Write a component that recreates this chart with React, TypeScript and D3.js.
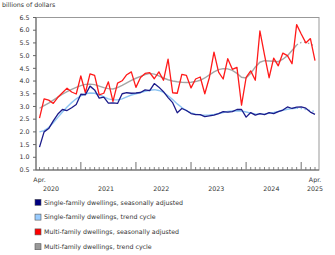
import React from "react";
import * as d3 from "d3";

const yTicks = [0.5, 1.0, 1.5, 2.0, 2.5, 3.0, 3.5, 4.0, 4.5, 5.0, 5.5, 6.0, 6.5];
const years = ["2020", "2021", "2022", "2023", "2024", "2025"];

const singleSA = [
  1.4, 2.0, 2.13, 2.43, 2.7, 2.88, 2.84, 2.95, 3.08, 3.48, 3.46, 3.8, 3.65,
  3.33, 3.37, 3.13, 3.14, 3.12, 3.5, 3.54, 3.52, 3.53, 3.55, 3.65, 3.62,
  3.9, 3.76, 3.58, 3.35, 3.15, 2.75, 2.92, 2.84, 2.72, 2.68, 2.68, 2.6,
  2.63, 2.66, 2.72, 2.8, 2.78, 2.8, 2.88, 2.88, 2.58, 2.76, 2.66, 2.72,
  2.68, 2.76, 2.72, 2.8, 2.86, 2.98, 2.92, 2.97, 2.98, 2.93, 2.78, 2.69,
];
const singleTrend = [
  2.0, 2.05, 2.17, 2.36, 2.57, 2.78, 2.98, 3.15, 3.3, 3.42, 3.5, 3.53, 3.52,
  3.46, 3.38, 3.3, 3.26, 3.26, 3.3, 3.38, 3.45, 3.5, 3.55, 3.6, 3.64, 3.66,
  3.63, 3.55, 3.42, 3.27, 3.1, 2.96, 2.84, 2.75, 2.7, 2.67, 2.66, 2.67,
  2.69, 2.72, 2.76, 2.8, 2.82, 2.83, 2.82, 2.78, 2.74, 2.71, 2.7, 2.71,
  2.73, 2.76, 2.8, 2.85, 2.89, 2.92, 2.93, 2.92, 2.88, 2.84, 2.8,
];
const multiSA = [
  2.54, 3.3, 3.25, 3.12, 3.36, 3.54, 3.72, 3.57, 3.49, 4.2, 3.54, 4.28, 4.22,
  3.46, 3.52, 3.97, 3.2, 3.92, 4.01, 4.25, 4.36, 3.75, 4.14, 4.3, 4.33,
  4.09, 4.36, 4.03, 4.86, 3.54, 3.52, 4.26, 4.22, 3.73, 4.08, 4.16, 3.5,
  4.14, 5.14, 4.35, 4.08, 4.88, 4.46, 4.54, 3.05, 4.14, 4.4, 4.03, 5.97,
  5.03, 4.13, 4.9, 4.6, 5.1, 5.0, 4.68, 6.22, 5.85, 5.5, 5.67, 4.8,
];
const multiTrend = [
  2.93, 3.03, 3.13, 3.25, 3.37, 3.48, 3.58, 3.67, 3.75, 3.82, 3.87, 3.88,
  3.86, 3.8, 3.74, 3.7, 3.69, 3.74, 3.83, 3.93, 4.03, 4.11, 4.18, 4.25, 4.3,
  4.27, 4.2, 4.12, 4.05, 4.0, 3.97, 3.95, 3.94, 3.95, 3.98, 4.03, 4.12, 4.24,
  4.36, 4.45, 4.49, 4.48, 4.42, 4.3, 4.15, 4.12, 4.3, 4.55, 4.74, 4.8, 4.79,
  4.78, 4.76, 4.86, 5.0, 5.2, 5.42, 5.52, 5.52, 5.46, 5.35,
];

const legendLabels = [
  "Single-family dwellings, seasonally adjusted",
  "Single-family dwellings, trend cycle",
  "Multi-family dwellings, seasonally adjusted",
  "Multi-family dwellings, trend cycle",
];
const colors = ["#1b1b8a", "#8cc4f2", "#ff1a1a", "#a6a6a6"];
const legendFill = ["#000080", "#99ccff", "#ff0000", "#999999"];

const months = d3.timeMonth.range(new Date(2020, 3, 1), new Date(2025, 4, 1));

export default function App() {
  const W = 335, H = 255;
  const left = 36, right = 319, top = 17.5, bottom = 170;
  const x = d3.scaleLinear().domain([0, months.length - 1]).range([39.5, 315]);
  const y = d3.scaleLinear().domain([0.5, 6.5]).range([bottom, top]);
  const font = "DejaVu Sans, Verdana, sans-serif";
  const fs = 6.3;

  const line = d3.line<number>().x((_, i) => x(i)).y((d) => y(d));
  const dottedFrom = months.length - 5;
  const solidPart = (arr: number[]) => line(arr.slice(0, dottedFrom + 1)) || "";
  const dotPart = (arr: number[]) =>
    d3.line<number>().x((_, i) => x(i + dottedFrom)).y((d) => y(d))(arr.slice(dottedFrom)) || "";

  const yearCenter = (yr: number) => {
    const jan = months.findIndex((m) => m.getFullYear() === yr && m.getMonth() === 0);
    const janIdx = jan >= 0 ? jan : 9 - 12;
    return x(janIdx + 5.5);
  };

  return (
    <svg width={W} height={H} style={{ position: "absolute", left: 0, top: 0, background: "#fff" }} fontFamily={font}>
      <rect x={0} y={0} width={W} height={H} fill="#fff" />
      <text x={2} y={6.5} fontSize={fs} fill="#333">billions of dollars</text>
      {/* frame */}
      <rect x={left} y={top} width={right - left} height={bottom - top} fill="none" stroke="#999" strokeWidth={1} />
      <line x1={left} x2={left} y1={top} y2={bottom} stroke="#666" />
      <line x1={left} x2={right} y1={bottom} y2={bottom} stroke="#666" />
      {yTicks.map((t) => (
        <g key={t}>
          <line x1={left - 3} x2={left} y1={y(t)} y2={y(t)} stroke="#666" />
          <text x={29.5} y={y(t) + 2.2} fontSize={fs} textAnchor="end" fill="#333">{t.toFixed(1)}</text>
        </g>
      ))}
      {months.map((m, i) => {
        const major = m.getMonth() === 0;
        return (
          <line key={i} x1={x(i)} x2={x(i)} y1={bottom} y2={bottom - (major ? 8 : 3)} stroke={major ? "#888" : "#666"} strokeWidth={major ? 1.2 : 0.8} />
        );
      })}
      <text x={x(0)} y={181.5} fontSize={fs} textAnchor="middle" fill="#333">Apr.</text>
      <text x={x(months.length - 1)} y={181.5} fontSize={fs} textAnchor="middle" fill="#333">Apr.</text>
      {years.map((yr, k) => (
        <text key={yr} x={k === years.length - 1 ? x(months.length - 1) : yearCenter(+yr)} y={190.5} fontSize={fs} textAnchor="middle" fill="#333">{yr}</text>
      ))}
      {/* trends */}
      <path d={solidPart(multiTrend)} fill="none" stroke={colors[3]} strokeWidth={1.4} />
      <path d={dotPart(multiTrend)} fill="none" stroke={colors[3]} strokeWidth={1.4} strokeDasharray="1.5,2.5" />
      <path d={solidPart(singleTrend)} fill="none" stroke={colors[1]} strokeWidth={1.4} />
      <path d={dotPart(singleTrend)} fill="none" stroke={colors[1]} strokeWidth={1.4} strokeDasharray="1.5,2.5" />
      <path d={line(multiSA) || ""} fill="none" stroke={colors[2]} strokeWidth={1.3} strokeLinejoin="round" />
      <path d={line(singleSA) || ""} fill="none" stroke={colors[0]} strokeWidth={1.3} strokeLinejoin="round" />
      {legendLabels.map((lab, k) => {
        const cy = 202.3 + k * 14.8;
        return (
          <g key={lab}>
            <rect x={35} y={cy - 3} width={6} height={6} fill={legendFill[k]} stroke="#555" strokeWidth={0.6} />
            <text x={44} y={cy + 2.2} fontSize={fs} fill="#333">{lab}</text>
          </g>
        );
      })}
    </svg>
  );
}
